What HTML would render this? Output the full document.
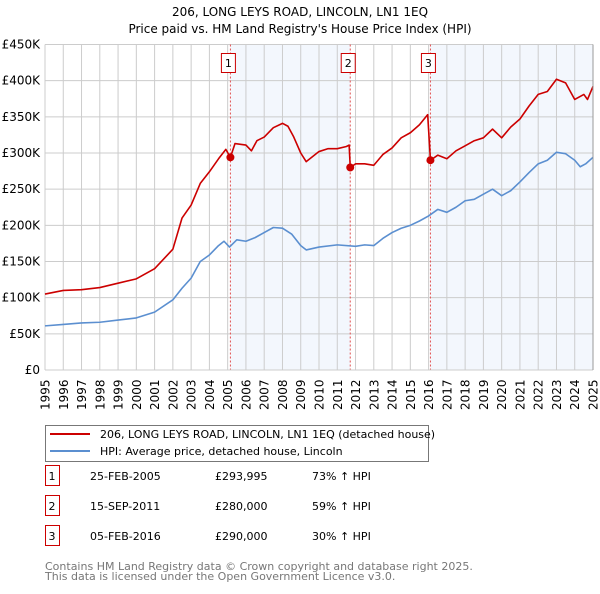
<!DOCTYPE html>
<html><head><meta charset="utf-8"><style>
body{margin:0;background:#fff;font-family:"DejaVu Sans","Liberation Sans",sans-serif;}
svg text{font-family:"DejaVu Sans","Liberation Sans",sans-serif;}
</style></head><body>
<svg id="c" width="600" height="590" xmlns="http://www.w3.org/2000/svg">
<text x="300" y="16" text-anchor="middle" font-size="12">206, LONG LEYS ROAD, LINCOLN, LN1 1EQ</text>
<text x="300" y="33" text-anchor="middle" font-size="12">Price paid vs. HM Land Registry's House Price Index (HPI)</text>
<g id="plot"></g>
<g>
<rect x="45.5" y="425.5" width="383" height="36" fill="#fff" stroke="#777"/>
<line x1="50" y1="434" x2="90" y2="434" stroke="#cc0000" stroke-width="2"/>
<text x="100" y="438" font-size="11">206, LONG LEYS ROAD, LINCOLN, LN1 1EQ (detached house)</text>
<line x1="50" y1="451" x2="90" y2="451" stroke="#5b8fd0" stroke-width="2"/>
<text x="100" y="455" font-size="11">HPI: Average price, detached house, Lincoln</text>
</g>
<g id="tbl" font-size="11"></g>
<text x="45" y="570" font-size="11" fill="#777">Contains HM Land Registry data © Crown copyright and database right 2025.</text>
<text x="45" y="580" font-size="11" fill="#777">This data is licensed under the Open Government Licence v3.0.</text>
</svg>
<script>
const yTicks=[0,50,100,150,200,250,300,350,400,450];
const yTickLabels=["£0","£50K","£100K","£150K","£200K","£250K","£300K","£350K","£400K","£450K"];
const xYears=[1995,1996,1997,1998,1999,2000,2001,2002,2003,2004,2005,2006,2007,2008,2009,2010,2011,2012,2013,2014,2015,2016,2017,2018,2019,2020,2021,2022,2023,2024,2025];
const hpiT=[1995,1996,1997,1998,1999,2000,2001,2002,2002.5,2003,2003.5,2004,2004.5,2004.8,2005.1,2005.5,2006,2006.5,2007,2007.5,2008,2008.5,2009,2009.3,2010,2011,2012,2012.5,2013,2013.5,2014,2014.5,2015,2015.5,2016,2016.5,2017,2017.5,2018,2018.5,2019,2019.5,2020,2020.5,2021,2021.5,2022,2022.5,2023,2023.5,2024,2024.3,2024.6,2025];
const hpiV=[61,63,65,66,69,72,80,97,113,127,150,159,172,178,170,180,178,183,190,197,196,188,172,166,170,173,171,173,172,182,190,196,200,206,213,222,218,225,234,236,243,250,241,248,260,273,285,290,301,299,290,281,285,294];
const propT=[1995,1996,1997,1998,1999,2000,2001,2002,2002.5,2003,2003.5,2004,2004.5,2004.9,2005.15,2005.4,2006,2006.3,2006.6,2007,2007.5,2008,2008.3,2008.6,2009,2009.3,2010,2010.5,2011,2011.5,2011.65,2011.71,2012,2012.5,2013,2013.5,2014,2014.5,2015,2015.5,2015.95,2016.1,2016.5,2017,2017.5,2018,2018.5,2019,2019.5,2020,2020.5,2021,2021.5,2022,2022.5,2023,2023.5,2024,2024.5,2024.7,2025];
const propV=[105,110,111,114,120,126,140,167,210,228,258,274,292,305,294,313,311,303,317,322,335,341,337,323,300,288,302,306,306,309,311,280,285,285,283,298,307,321,328,339,353,290,297,292,303,310,317,321,333,321,336,347,365,381,385,402,397,374,381,374,392];
const saleT=[2005.15,2011.71,2016.1];
const saleV=[293.995,280,290];
const saleLabels=["1","2","3"];
const saleDates=["25-FEB-2005","15-SEP-2011","05-FEB-2016"];
const salePrices=["£293,995","£280,000","£290,000"];
const saleHpi=["73% ↑ HPI","59% ↑ HPI","30% ↑ HPI"];

const NS="http://www.w3.org/2000/svg";
const L=45,R=593,T=44.5,B=370;
const xs=t=>L+(t-1995)/30*(R-L);
const ys=v=>B-v/450*(B-T);
const plot=document.getElementById('plot');
function mk(tag,at,parent){const e=document.createElementNS(NS,tag);for(const k in at)e.setAttribute(k,at[k]);(parent||plot).appendChild(e);return e;}
// shading
const shadeStarts=[saleT[0],saleT[2]],shadeEnds=[saleT[1],2025];
shadeStarts.forEach((s,i)=>{const r=mk('rect',{x:xs(s),y:T,width:xs(shadeEnds[i])-xs(s),height:B-T,fill:'#eef3fc',opacity:0.7});

});
// grid
yTicks.forEach((v,i)=>{const g=mk('line',{x1:L,x2:R,y1:ys(v),y2:ys(v),stroke:'#ccc','stroke-width':1});


const t=mk('text',{x:L-5,y:ys(v)+4,'text-anchor':'end','font-size':12});t.textContent=yTickLabels[i];

});
xYears.forEach(y=>{const g=mk('line',{x1:xs(y),x2:xs(y),y1:T,y2:B,stroke:'#ccc','stroke-width':1});


const t=mk('text',{x:0,y:0,'font-size':12,transform:`translate(${xs(y)+4.5},410) rotate(-90)`});t.textContent=y;

});
// sale lines
saleT.forEach((s,i)=>{const l=mk('line',{x1:xs(s),x2:xs(s),y1:T,y2:B,stroke:'#e05050','stroke-width':1,'stroke-dasharray':'2,2'});


const b=mk('rect',{x:xs(s)-10.5,y:53.5,width:14,height:19,fill:'#fff',stroke:'#cc0000'});
b.setAttribute('x',xs(s)-7-2);


const t=mk('text',{x:xs(s)-2,y:67,'text-anchor':'middle','font-size':11});t.textContent=saleLabels[i];

});
function line(T_,V_,col,name){const p=mk('polyline',{points:T_.map((t,i)=>xs(t)+','+ys(V_[i])).join(' '),fill:'none',stroke:col,'stroke-width':1.6,'stroke-linejoin':'round'});

}
line(hpiT,hpiV,'#5b8fd0','hpi-line');
line(propT,propV,'#cc0000','property-line');
saleT.forEach((s,i)=>{const c=mk('circle',{cx:xs(s),cy:ys(saleV[i]),r:4,fill:'#cc0000'});

});
mk('line',{x1:L,x2:R,y1:B,y2:B,stroke:'#ccc'});
mk('line',{x1:R,x2:R,y1:T,y2:B,stroke:'#999'});
// table
const tbl=document.getElementById('tbl');
saleLabels.forEach((s,i)=>{const y=483+i*30;
const b=mk('rect',{x:45.5,y:y-17.5,width:14,height:20,fill:'#fff',stroke:'#cc0000'},tbl);


const cols=[[52,s,'middle'],[90,saleDates[i],'start'],[215,salePrices[i],'start'],[312,saleHpi[i],'start']];
cols.forEach(c=>{const t=mk('text',{x:c[0],y:y-3,'text-anchor':c[2],'font-size':11},tbl);t.textContent=c[1];

});});
</script>
</body></html>
